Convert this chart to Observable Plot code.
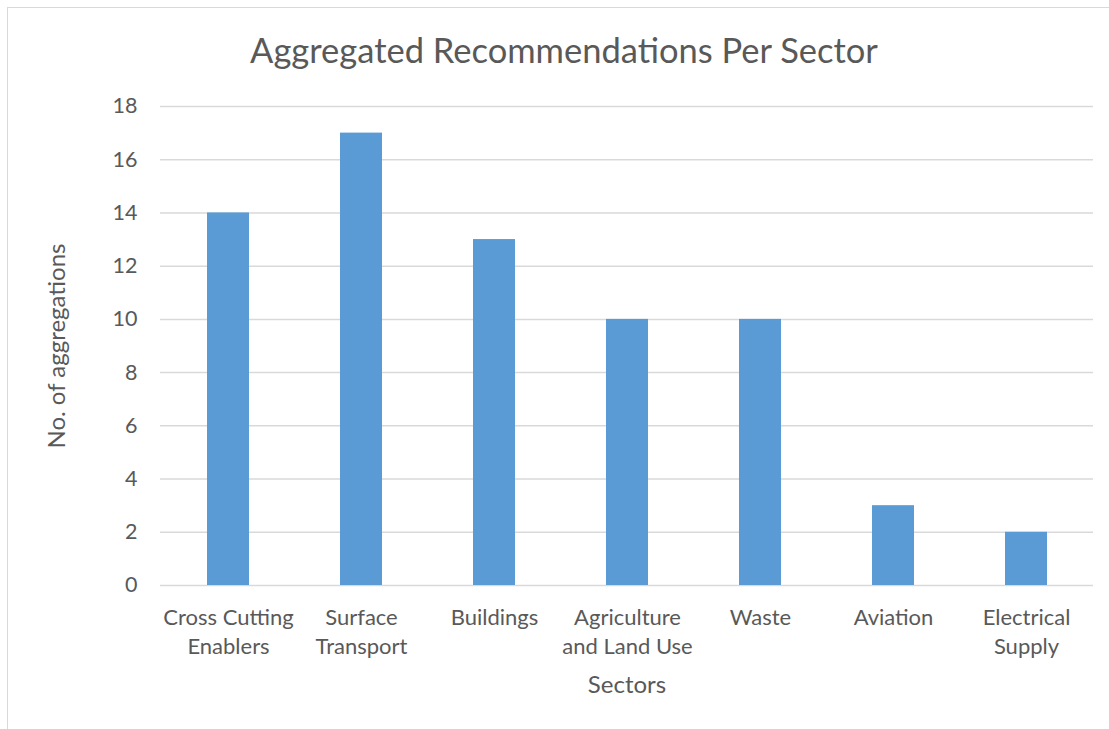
<!DOCTYPE html>
<html>
<head>
<meta charset="utf-8">
<script src="https://cdn.jsdelivr.net/npm/d3@7"></script>
<script src="https://cdn.jsdelivr.net/npm/@observablehq/plot@0.6"></script>
<style>
  html, body { margin: 0; padding: 0; background: #fff; overflow: hidden; }
  body { width: 1109px; height: 729px; position: relative; font-family: Lato, "Open Sans", sans-serif; }
  #frame { position: absolute; left: 7px; top: 7px; width: 1120px; height: 740px; border: 1.5px solid #d9d9d9; box-sizing: border-box; }
  #title { position: absolute; left: 0; top: 28px; width: 1128px; text-align: center; font-size: 34.5px; color: #595959; line-height: 44px; }
  #chart { position: absolute; left: 0; top: 80px; }
</style>
</head>
<body>
<div id="frame"></div>
<div id="title">Aggregated Recommendations Per Sector</div>
<div id="chart"></div>
<script>
const sectors = ["Cross Cutting\nEnablers", "Surface\nTransport", "Buildings", "Agriculture\nand Land Use", "Waste", "Aviation", "Electrical\nSupply"];
const counts = [14, 17, 13, 10, 10, 3, 2];
const yTicks = [0, 2, 4, 6, 8, 10, 12, 14, 16, 18];
const yLabel = "No. of aggregations";
const xLabel = "Sectors";

const data = sectors.map((s, i) => ({sector: s, value: counts[i]}));
const textColor = "#595959";

const chart = Plot.plot({
  width: 1109,
  height: 649,
  marginTop: 26,
  marginBottom: 144,
  marginLeft: 160,
  marginRight: 16,
  style: {fontFamily: "Lato, 'Open Sans', sans-serif", color: textColor, background: "transparent", overflow: "visible"},
  x: {domain: sectors, paddingInner: 0.685, paddingOuter: 0.3425, label: null},
  y: {domain: [0, 18], ticks: yTicks, label: null},
  marks: [
    Plot.ruleY(yTicks, {stroke: "#d9d9d9", strokeWidth: 1.5}),
    Plot.barY(data, {x: "sector", y: "value", fill: "#5B9BD5"}),
    Plot.axisY({ticks: yTicks, tickSize: 0, tickPadding: 23, fontSize: 21.5, fill: textColor, label: null}),
    Plot.axisX({tickSize: 0, tickPadding: 18.5, fontSize: 22, lineHeight: 1.32, fill: textColor, label: null}),
    Plot.text([yLabel], {frameAnchor: "left", dx: -103, rotate: -90, fontSize: 24, fill: textColor, textAnchor: "middle"}),
    Plot.text([xLabel], {frameAnchor: "bottom", dy: 107, fontSize: 24, fill: textColor})
  ]
});
document.getElementById("chart").appendChild(chart);
</script>
</body>
</html>
